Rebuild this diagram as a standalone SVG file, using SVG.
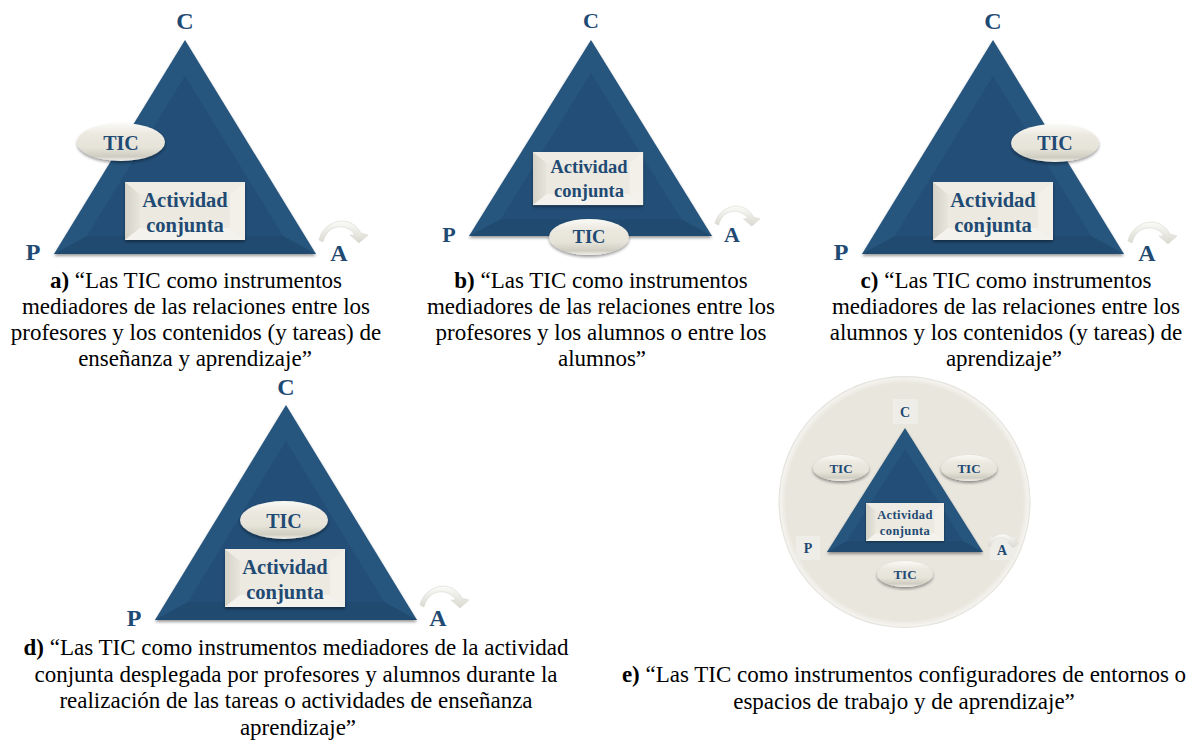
<svg xmlns="http://www.w3.org/2000/svg" width="1204" height="748" viewBox="0 0 1204 748">
<defs>
<linearGradient id="ell" x1="0" y1="0" x2="0" y2="1"><stop offset="0" stop-color="#fafaf6"/><stop offset="0.3" stop-color="#ebe8df"/><stop offset="0.65" stop-color="#e6e3d9"/><stop offset="0.88" stop-color="#cfccc2"/><stop offset="1" stop-color="#f2f0ea"/></linearGradient>
<linearGradient id="bl" x1="0" y1="0" x2="1" y2="0"><stop offset="0" stop-color="#d4d1c7"/><stop offset="1" stop-color="#e8e5dc"/></linearGradient>
<radialGradient id="disc" cx="0.5" cy="0.5" r="0.5"><stop offset="0.94" stop-color="#e9e6de"/><stop offset="0.985" stop-color="#f4f3ee"/><stop offset="1" stop-color="#dedcd5"/></radialGradient>
<linearGradient id="arcg" x1="0" y1="0" x2="0" y2="1"><stop offset="0" stop-color="#fbfbf8"/><stop offset="1" stop-color="#d9d8d0"/></linearGradient>
<filter id="sh" x="-10%" y="-10%" width="120%" height="125%"><feGaussianBlur in="SourceAlpha" stdDeviation="1.5"/><feOffset dy="2"/><feComponentTransfer><feFuncA type="linear" slope="0.4"/></feComponentTransfer><feMerge><feMergeNode/><feMergeNode in="SourceGraphic"/></feMerge></filter>
<symbol id="arc" viewBox="0 0 50 30" overflow="visible"><path d="M1 22C4 8 20 -1 33 5C38 8 41 11 43 15L50 17L41 25L32 17L37 17C33 11 26 8 20 9C12 10 7 16 5 24Z" fill="url(#arcg)" stroke="#d9d8d0" stroke-width=".6"/></symbol>
<g id="bx"><rect width="120" height="58" fill="#ece9e1" filter="url(#sh)"/><polygon points="0,0 15,12 15,46 0,58" fill="url(#bl)"/><polygon points="0,0 120,0 105,12 15,12" fill="#eeece4"/><polygon points="120,0 120,58 105,46 105,12" fill="#f2f0e9"/><polygon points="0,58 15,46 105,46 120,58" fill="#f4f2ec"/><rect x="15" y="12" width="90" height="34" fill="#ece9e1"/></g>
</defs>
<style>
text{font-family:"Liberation Serif","Times New Roman",serif}
.cap{font-size:23px;fill:#000;text-anchor:middle}
.l{font-weight:700;fill:#1f4a73;font-size:24px;text-anchor:middle}
.t{font-weight:700;fill:#1f4a73;text-anchor:middle}
.tr{fill:#26547d;filter:url(#sh)}
.b{fill:#204a70}
.i{fill:#224e77}
.el{fill:url(#ell);filter:url(#sh)}
.sq{fill:#efede7}
</style>
<g id="connectors"></g>

<g id="node-a">
<polygon class="tr" points="185,40 54,254 316,254"/><polygon class="b" points="54,254 316,254 283,236 87,236"/><polygon class="i" points="185,76 87,236 283,236"/>
<use href="#bx" transform="translate(125 182)"/>
<text class="t" font-size="20.500" x="185" y="207">Actividad</text><text class="t" font-size="20.500" x="185" y="232">conjunta</text>
<ellipse class="el" cx="121" cy="142" rx="44" ry="19"/><text class="t" font-size="20" x="121" y="150">TIC</text>
<text class="l" x="185" y="29">C</text><text class="l" x="33" y="260">P</text><text class="l" x="339" y="261">A</text>
<use href="#arc" x="318" y="218" width="50" height="30"/>
</g>

<g id="node-b">
<polygon class="tr" points="591,40 469,236 712,236"/><polygon class="b" points="469,236 712,236 681,219 501,219"/><polygon class="i" points="591,73 501,219 681,219"/>
<use href="#bx" transform="translate(533 152) scale(.917 .914)"/>
<text class="t" font-size="18.500" x="589" y="173">Actividad</text><text class="t" font-size="18.500" x="589" y="197">conjunta</text>
<ellipse class="el" cx="589" cy="237" rx="40" ry="18"/><text class="t" font-size="18.500" x="589" y="243">TIC</text>
<text class="l" style="font-size:22px" x="591" y="28">C</text><text class="l" style="font-size:22px" x="449" y="242">P</text><text class="l" style="font-size:22px" x="732" y="242">A</text>
<use href="#arc" x="714" y="203" width="46" height="28"/>
</g>

<g id="node-c">
<polygon class="tr" points="993,40 862,254 1124,254"/><polygon class="b" points="862,254 1124,254 1091,236 895,236"/><polygon class="i" points="993,76 895,236 1091,236"/>
<use href="#bx" transform="translate(933 182)"/>
<text class="t" font-size="20.500" x="993" y="207">Actividad</text><text class="t" font-size="20.500" x="993" y="232">conjunta</text>
<ellipse class="el" cx="1055" cy="143" rx="44" ry="19"/><text class="t" font-size="20" x="1055" y="150">TIC</text>
<text class="l" x="993" y="29">C</text><text class="l" x="841" y="260">P</text><text class="l" x="1147" y="261">A</text>
<use href="#arc" x="1127" y="219" width="50" height="30"/>
</g>

<g id="node-d">
<polygon class="tr" points="286,405 155,620 417,620"/><polygon class="b" points="155,620 417,620 384,602 188,602"/><polygon class="i" points="286,441 188,602 384,602"/>
<use href="#bx" transform="translate(225 549)"/>
<text class="t" font-size="20.500" x="285" y="574">Actividad</text><text class="t" font-size="20.500" x="285" y="599">conjunta</text>
<ellipse class="el" cx="284" cy="520" rx="44" ry="19"/><text class="t" font-size="20" x="284" y="528">TIC</text>
<text class="l" x="286" y="395">C</text><text class="l" x="134" y="626">P</text><text class="l" x="438" y="626">A</text>
<use href="#arc" x="419" y="583" width="50" height="30"/>
</g>

<g id="node-e">
<circle cx="904.500" cy="502" r="126" fill="url(#disc)"/>
<rect class="sq" x="893" y="399" width="25" height="25"/><rect class="sq" x="796" y="536" width="24" height="24"/><rect class="sq" x="990" y="537" width="25" height="23"/>
<polygon class="tr" points="905,428 827,552 983,552"/><polygon class="b" points="827,552 983,552 963,541 847,541"/><polygon class="i" points="905,449 847,541 963,541"/>
<use href="#bx" transform="translate(866 503) scale(.65 .655)"/>
<text class="t" font-size="12.500" x="905" y="519" style="letter-spacing:.4px">Actividad</text><text class="t" font-size="12.500" x="905" y="535" style="letter-spacing:.4px">conjunta</text>
<ellipse class="el" cx="841" cy="468" rx="28" ry="13"/><text class="t" font-size="13" x="841" y="473">TIC</text>
<ellipse class="el" cx="969" cy="468" rx="28" ry="13"/><text class="t" font-size="13" x="969" y="473">TIC</text>
<ellipse class="el" cx="905" cy="574" rx="28" ry="13"/><text class="t" font-size="13" x="905" y="579">TIC</text>
<text class="l" style="font-size:14px" x="905" y="417">C</text><text class="l" style="font-size:14px" x="808" y="553">P</text><text class="l" style="font-size:14px" x="1002" y="555">A</text>
<use href="#arc" x="987" y="532" width="32" height="19"/>
</g>

<g id="captions">
<text class="cap" x="196" y="288"><tspan font-weight="700">a)</tspan> “Las TIC como instrumentos</text>
<text class="cap" x="196" y="314">mediadores de las relaciones entre los</text>
<text class="cap" x="196" y="340">profesores y los contenidos (y tareas) de</text>
<text class="cap" x="195" y="366">enseñanza y aprendizaje”</text>
<text class="cap" x="601" y="288"><tspan font-weight="700">b)</tspan> “Las TIC como instrumentos</text>
<text class="cap" x="601" y="314">mediadores de las relaciones entre los</text>
<text class="cap" x="601" y="340">profesores y los alumnos o entre los</text>
<text class="cap" x="602" y="366">alumnos”</text>
<text class="cap" x="1006" y="288"><tspan font-weight="700">c)</tspan> “Las TIC como instrumentos</text>
<text class="cap" x="1006" y="314">mediadores de las relaciones entre los</text>
<text class="cap" x="1006" y="340">alumnos y los contenidos (y tareas) de</text>
<text class="cap" x="1004" y="366">aprendizaje”</text>
<text class="cap" x="296" y="655"><tspan font-weight="700">d)</tspan> “Las TIC como instrumentos mediadores de la actividad</text>
<text class="cap" x="296" y="682">conjunta desplegada por profesores y alumnos durante la</text>
<text class="cap" x="296" y="708">realización de las tareas o actividades de enseñanza</text>
<text class="cap" x="298" y="735">aprendizaje”</text>
<text class="cap" x="904" y="682"><tspan font-weight="700">e)</tspan> “Las TIC como instrumentos configuradores de entornos o</text>
<text class="cap" x="904" y="709">espacios de trabajo y de aprendizaje”</text>
</g>
</svg>
